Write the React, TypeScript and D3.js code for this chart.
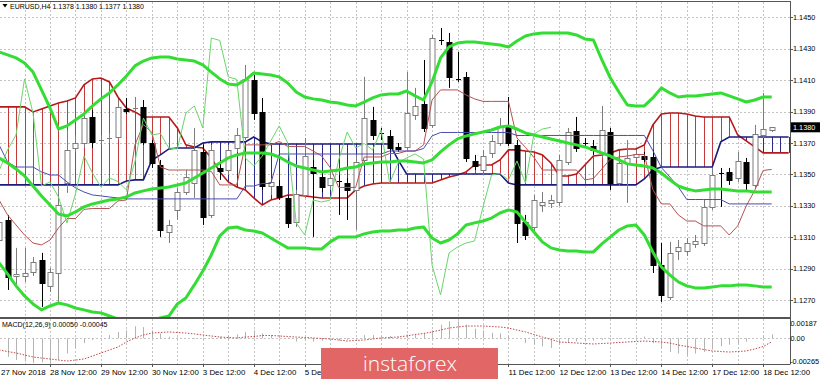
import React from "react";
import * as d3 from "d3";

const dateLabels = ["27 Nov 2018","28 Nov 12:00","29 Nov 12:00","30 Nov 12:00","3 Dec 12:00","4 Dec 12:00","5 Dec 12:00","6 Dec 12:00","7 Dec 12:00","10 Dec 12:00","11 Dec 12:00","12 Dec 12:00","13 Dec 12:00","14 Dec 12:00","17 Dec 12:00","18 Dec 12:00"];
const priceTicks = [1.1270,1.1290,1.1310,1.1330,1.1350,1.1370,1.1390,1.1410,1.1430,1.1450];
const macdTicks = [0.00187,0,-0.00265];

const opens = [1.13082,1.13210,1.12853,1.12853,1.12879,1.12955,1.12790,1.12872,1.13445,1.13668,
1.13700,1.13866,1.13719,1.13732,1.13738,1.13917,1.13917,1.13930,1.13700,1.13560,
1.13133,1.13274,1.13388,1.13445,1.13643,1.13242,1.13541,1.13528,1.13668,1.13738,
1.14101,1.13898,1.13426,1.13426,1.13350,1.13197,1.13369,1.13547,1.13484,1.13433,
1.13458,1.13445,1.13401,1.13592,1.13847,1.13764,1.13745,1.13675,1.13675,1.13879,
1.13949,1.13815,1.14356,1.14344,1.14108,1.14121,1.13586,1.13528,1.13637,1.13700,
1.13802,1.13688,1.13197,1.13165,1.13305,1.13318,1.13324,1.13579,1.13777,1.13700,
1.13681,1.13637,1.13770,1.13445,1.13573,1.13611,1.13617,1.13611,1.12923,1.12719,
1.13012,1.13012,1.13057,1.13063,1.13293,1.13509,1.13516,1.13477,1.13579,1.13433,
1.13751,1.1378];
const highs = [1.13242,1.13242,1.13032,1.13032,1.12974,1.13000,1.12904,1.13433,1.13783,1.13751,
1.13898,1.13910,1.13751,1.13764,1.13974,1.13987,1.13993,1.13974,1.13719,1.13592,
1.13210,1.13414,1.13528,1.13796,1.13688,1.13688,1.13592,1.13688,1.13796,1.14197,
1.14133,1.13987,1.13477,1.13465,1.13369,1.13401,1.13732,1.13592,1.13528,1.13516,
1.13496,1.13477,1.13624,1.14121,1.13930,1.13796,1.13783,1.13700,1.14152,1.14051,
1.14229,1.14388,1.14433,1.14401,1.14280,1.14152,1.13624,1.13656,1.13751,1.13859,
1.13993,1.13719,1.13242,1.13369,1.13388,1.13369,1.13624,1.13796,1.13866,1.13732,
1.13719,1.13936,1.13796,1.13605,1.13719,1.13656,1.13643,1.13656,1.13063,1.13070,
1.13082,1.13095,1.13114,1.13337,1.13541,1.13541,1.13541,1.13643,1.13605,1.13815,
1.14019,1.1380];
const lows = [1.13051,1.12764,1.12783,1.12815,1.12853,1.12656,1.12751,1.12688,1.13382,1.13643,
1.13668,1.13668,1.13688,1.13700,1.13719,1.13885,1.13898,1.13688,1.13541,1.13102,
1.13063,1.13210,1.13369,1.13350,1.13178,1.13222,1.13465,1.13496,1.13643,1.13719,
1.13847,1.13401,1.13369,1.13337,1.13159,1.13165,1.13350,1.13102,1.13388,1.13401,
1.13242,1.13210,1.13146,1.13560,1.13719,1.13719,1.13643,1.13643,1.13656,1.13847,
1.13770,1.13796,1.14324,1.14051,1.14089,1.13579,1.13528,1.13496,1.13605,1.13681,
1.13681,1.13063,1.13082,1.13133,1.13261,1.13286,1.13299,1.13560,1.13643,1.13668,
1.13624,1.13605,1.13401,1.13426,1.13318,1.13592,1.13579,1.12872,1.12688,1.12700,
1.12955,1.12981,1.13032,1.13044,1.13274,1.13293,1.13433,1.13452,1.13401,1.13414,
1.13732,1.1377];
const closes = [1.13197,1.12847,1.12866,1.12872,1.12942,1.12809,1.12879,1.13305,1.13656,1.13700,
1.13859,1.13707,1.13722,1.13735,1.13930,1.13904,1.13920,1.13707,1.13573,1.13146,
1.13178,1.13388,1.13484,1.13656,1.13229,1.13656,1.13522,1.13656,1.13751,1.14108,
1.13891,1.13426,1.13452,1.13356,1.13191,1.13375,1.13617,1.13509,1.13420,1.13477,
1.13455,1.13401,1.13579,1.13859,1.13751,1.13761,1.13668,1.13662,1.13891,1.13936,
1.13796,1.14369,1.14353,1.14121,1.14105,1.13605,1.13554,1.13617,1.13713,1.13809,
1.13700,1.13191,1.13114,1.13337,1.13324,1.13337,1.13592,1.13770,1.13668,1.13697,
1.13656,1.13783,1.13445,1.13573,1.13605,1.13630,1.13598,1.12923,1.12732,1.13000,
1.13038,1.13063,1.13076,1.13293,1.13496,1.13506,1.13465,1.13586,1.13445,1.13758,
1.13789,1.1380];

const bbUpper = [1.14280,1.14261,1.14242,1.14210,1.14152,1.14038,1.13923,1.13789,1.13809,1.13847,
1.13885,1.13936,1.13981,1.14019,1.14070,1.14127,1.14191,1.14222,1.14242,1.14248,
1.14248,1.14235,1.14229,1.14222,1.14197,1.14152,1.14108,1.14076,1.14070,1.14101,
1.14146,1.14140,1.14133,1.14121,1.14082,1.14025,1.13993,1.13981,1.13974,1.13961,
1.13955,1.13942,1.13936,1.13961,1.13987,1.14006,1.14012,1.14012,1.14031,1.14000,
1.13974,1.14089,1.14242,1.14312,1.14337,1.14344,1.14344,1.14337,1.14331,1.14324,
1.14312,1.14350,1.14382,1.14395,1.14401,1.14401,1.14401,1.14401,1.14388,1.14363,
1.14356,1.14229,1.14114,1.14025,1.13942,1.13936,1.13936,1.13987,1.14051,1.14019,
1.13993,1.14000,1.14000,1.14006,1.14012,1.14019,1.14000,1.13981,1.13961,1.13974,
1.13993,1.13993];
const bbMiddle = [1.13605,1.13573,1.13535,1.13490,1.13426,1.13363,1.13305,1.13248,1.13235,1.13261,
1.13293,1.13312,1.13324,1.13337,1.13344,1.13356,1.13382,1.13395,1.13407,1.13414,
1.13420,1.13433,1.13445,1.13477,1.13509,1.13541,1.13573,1.13605,1.13624,1.13637,
1.13637,1.13637,1.13630,1.13611,1.13579,1.13554,1.13541,1.13528,1.13516,1.13522,
1.13528,1.13541,1.13547,1.13567,1.13573,1.13579,1.13579,1.13586,1.13586,1.13579,
1.13573,1.13592,1.13643,1.13688,1.13726,1.13745,1.13758,1.13770,1.13783,1.13802,
1.13809,1.13789,1.13764,1.13751,1.13738,1.13726,1.13713,1.13700,1.13688,1.13675,
1.13656,1.13637,1.13617,1.13592,1.13567,1.13560,1.13554,1.13541,1.13509,1.13465,
1.13426,1.13407,1.13395,1.13401,1.13407,1.13407,1.13401,1.13395,1.13395,1.13388,
1.13388,1.13388];
const bbLower = [1.12936,1.12866,1.12790,1.12726,1.12675,1.12637,1.12662,1.12681,1.12669,1.12649,
1.12637,1.12624,1.12618,1.12598,1.12579,1.12567,1.12567,1.12573,1.12573,1.12586,
1.12598,1.12675,1.12713,1.12796,1.12885,1.12987,1.13108,1.13159,1.13165,1.13146,
1.13139,1.13127,1.13095,1.13063,1.13032,1.13032,1.13032,1.13025,1.13025,1.13070,
1.13102,1.13102,1.13102,1.13121,1.13133,1.13139,1.13139,1.13146,1.13146,1.13159,
1.13165,1.13095,1.13063,1.13082,1.13121,1.13178,1.13191,1.13203,1.13222,1.13254,
1.13274,1.13261,1.13197,1.13133,1.13070,1.13032,1.13019,1.13012,1.13012,1.13006,
1.13006,1.13057,1.13102,1.13146,1.13172,1.13178,1.13114,1.13006,1.12911,1.12860,
1.12815,1.12790,1.12777,1.12777,1.12783,1.12790,1.12790,1.12796,1.12796,1.12790,
1.12783,1.12783];

const tenkan = [1.13337,1.13242,1.13178,1.13114,1.13063,1.13051,1.13082,1.13159,1.13219,1.13219,
1.13277,1.13283,1.13283,1.13283,1.13331,1.13337,1.13688,1.13818,1.13767,1.13547,
1.13528,1.13528,1.13528,1.13528,1.13528,1.13519,1.13433,1.13433,1.13433,1.13688,
1.13688,1.13688,1.13688,1.13710,1.13678,1.13678,1.13678,1.13649,1.13617,1.13544,
1.13417,1.13417,1.13417,1.13611,1.13611,1.13611,1.13633,1.13633,1.13649,1.13649,
1.13688,1.13974,1.14038,1.14038,1.14038,1.14006,1.13981,1.13965,1.13965,1.13965,
1.13965,1.13732,1.13672,1.13608,1.13528,1.13528,1.13528,1.13528,1.13528,1.13465,
1.13474,1.13535,1.13598,1.13611,1.13617,1.13627,1.13627,1.13404,1.13312,1.13312,
1.13242,1.13203,1.13203,1.13172,1.13172,1.13172,1.13114,1.13172,1.13299,1.13398,
1.13525,1.13532];
const kijun = [1.13688,1.13579,1.13547,1.13547,1.13547,1.13516,1.13496,1.13496,1.13452,1.13414,
1.13388,1.13369,1.13363,1.13356,1.13350,1.13344,1.13344,1.13344,1.13344,1.13344,
1.13344,1.13344,1.13344,1.13344,1.13344,1.13344,1.13344,1.13344,1.13344,1.13426,
1.13426,1.13442,1.13442,1.13630,1.13630,1.13630,1.13630,1.13630,1.13630,1.13630,
1.13630,1.13630,1.13630,1.13630,1.13630,1.13630,1.13649,1.13649,1.13649,1.13649,
1.13665,1.13745,1.13767,1.13767,1.13767,1.13767,1.13767,1.13767,1.13767,1.13767,
1.13767,1.13748,1.13748,1.13748,1.13748,1.13748,1.13748,1.13748,1.13748,1.13748,
1.13748,1.13748,1.13748,1.13748,1.13748,1.13748,1.13748,1.13652,1.13544,1.13484,
1.13420,1.13340,1.13340,1.13340,1.13340,1.13340,1.13312,1.13312,1.13312,1.13312,
1.13312,1.13312];
const spanA = [1.13930,1.13930,1.13930,1.13930,1.13898,1.13917,1.13936,1.13955,1.13968,1.13987,
1.14070,1.14108,1.14114,1.14089,1.13993,1.13923,1.13898,1.13866,1.13866,1.13866,
1.13866,1.13796,1.13688,1.13675,1.13668,1.13605,1.13516,1.13452,1.13420,1.13401,
1.13350,1.13305,1.13337,1.13350,1.13369,1.13369,1.13363,1.13356,1.13350,1.13350,
1.13350,1.13350,1.13401,1.13426,1.13439,1.13445,1.13445,1.13445,1.13445,1.13445,
1.13445,1.13445,1.13465,1.13484,1.13496,1.13516,1.13560,1.13560,1.13560,1.13592,
1.13656,1.13656,1.13649,1.13643,1.13624,1.13573,1.13490,1.13490,1.13503,1.13560,
1.13617,1.13624,1.13637,1.13656,1.13662,1.13662,1.13688,1.13815,1.13885,1.13891,
1.13891,1.13885,1.13872,1.13866,1.13866,1.13866,1.13866,1.13751,1.13713,1.13675,
1.13637,1.13637,1.13637,1.13637];
const spanB = [1.13433,1.13433,1.13433,1.13433,1.13433,1.13433,1.13433,1.13433,1.13433,1.13433,
1.13433,1.13433,1.13433,1.13433,1.13433,1.13458,1.13465,1.13465,1.13592,1.13624,
1.13662,1.13668,1.13668,1.13668,1.13700,1.13707,1.13707,1.13707,1.13707,1.13707,
1.13738,1.13707,1.13694,1.13694,1.13694,1.13694,1.13694,1.13694,1.13694,1.13694,
1.13694,1.13694,1.13694,1.13694,1.13694,1.13694,1.13694,1.13592,1.13503,1.13503,
1.13503,1.13503,1.13503,1.13503,1.13503,1.13503,1.13503,1.13503,1.13503,1.13503,
1.13445,1.13433,1.13433,1.13433,1.13433,1.13433,1.13433,1.13433,1.13433,1.13433,
1.13433,1.13433,1.13433,1.13433,1.13433,1.13433,1.13471,1.13528,1.13547,1.13547,
1.13547,1.13547,1.13547,1.13547,1.13547,1.13707,1.13738,1.13738,1.13738,1.13738,
1.13738,1.13738,1.13738,1.13738];

const macdMain = [-0.0017,-0.0023,-0.0027,-0.0029,-0.0031,-0.0030,-0.0031,-0.0027,-0.0019,-0.0012,
-0.0006,-0.0002,0.0000,0.0004,0.0008,0.0010,0.0015,0.0014,0.0010,0.0006,
0.0002,0.0001,0.0000,-0.0001,-0.0002,0.0001,0.0002,0.0003,0.0005,0.0008,
0.0010,0.0006,0.0004,0.0004,0.0001,-0.0004,-0.0002,-0.0004,-0.0003,-0.0002,
-0.0003,-0.0002,-0.0001,0.0004,0.0004,0.0003,0.0003,0.0002,0.0005,0.0004,
0.0006,0.0010,0.0017,0.0021,0.0021,0.0017,0.0012,0.0010,0.0007,0.0006,
0.0003,0.0000,-0.0006,-0.0008,-0.0010,-0.0012,-0.0008,-0.0005,-0.0004,-0.0004,
-0.0003,-0.0002,-0.0002,-0.0001,0.0000,0.0001,0.0002,-0.0006,-0.0012,-0.0017,
-0.0019,-0.0021,-0.0019,-0.0017,-0.0014,-0.0010,-0.0008,-0.0006,-0.0004,0.0000,
0.0003,0.0005];
const macdSignal = [-0.00146,-0.00165,-0.00183,-0.00208,-0.00233,-0.00246,-0.00258,-0.00271,-0.00283,-0.00271,
-0.00258,-0.00221,-0.00183,-0.00146,-0.00108,-0.00046,0.00004,0.00041,0.00066,0.00072,
0.00079,0.00072,0.00066,0.00054,0.00041,0.00029,0.00016,0.00010,0.00004,0.00016,
0.00022,0.00035,0.00035,0.00029,0.00022,0.00016,0.00010,0.00004,-0.00002,-0.00009,
-0.00021,-0.00034,-0.00027,-0.00021,-0.00009,0.00004,0.00010,0.00016,0.00029,0.00047,
0.00060,0.00079,0.00103,0.00128,0.00141,0.00153,0.00153,0.00153,0.00147,0.00141,
0.00128,0.00103,0.00079,0.00047,0.00016,-0.00015,-0.00046,-0.00052,-0.00059,-0.00065,
-0.00071,-0.00065,-0.00059,-0.00052,-0.00046,-0.00040,-0.00034,-0.00040,-0.00046,-0.00059,
-0.00084,-0.00102,-0.00121,-0.00140,-0.00158,-0.00165,-0.00171,-0.00165,-0.00158,-0.00133,
-0.00102,-0.00045];

const FONT = "'Liberation Sans', Arial, sans-serif";
const W = 820, H = 379;
const RIGHT = 790, MAIN_TOP = 2, MAIN_BOTTOM = 317, MACD_TOP = 319, MACD_BOTTOM = 364;
const WM = { x: 321, y: 348, w: 177, h: 31 };

export default function App() {
  const x = d3.scaleLinear().domain([6, 90]).range([50, 763.2]);
  const y = d3.scaleLinear().domain([1.127, 1.145]).range([300, 17.4]);
  const ym = d3.scaleLinear().domain([0, 0.00187]).range([338.3, 323.3]);
  const px = (i: number) => Math.round(x(i)) + 0.5;

  const lineOf = (arr: number[]) =>
    d3.line<number>().x((_, i) => x(i)).y((v) => y(v))(arr) || "";
  const chikou = closes.slice(26);

  const gridBars = d3.range(0, 92, 3);
  const signalPath = d3.line<number>().x((_, i) => x(i)).y((v) => ym(v))(macdSignal) || "";

  return (
    <div style={{ position: "absolute", left: 0, top: 0 }}>
      <svg width={W} height={H} style={{ display: "block", background: "#fff" }} fontFamily={FONT}>
        <defs>
          <clipPath id="mainClip"><rect x={0} y={MAIN_TOP} width={RIGHT} height={MAIN_BOTTOM - MAIN_TOP} /></clipPath>
          <clipPath id="macdClip"><rect x={0} y={MACD_TOP} width={RIGHT} height={MACD_BOTTOM - MACD_TOP} /></clipPath>
        </defs>
        <rect x={0} y={0} width={W} height={H} fill="#fff" />

        {/* grid */}
        <g stroke="#c4c4c4" strokeWidth={1} strokeDasharray="2,2">
          {gridBars.map((i) => (
            <g key={"vg" + i}>
              <line x1={px(i)} x2={px(i)} y1={MAIN_TOP} y2={MAIN_BOTTOM} />
              <line x1={px(i)} x2={px(i)} y1={MACD_TOP} y2={MACD_BOTTOM} />
            </g>
          ))}
          {priceTicks.map((p) => (
            <line key={"hg" + p} x1={0} x2={RIGHT} y1={Math.round(y(p)) + 0.5} y2={Math.round(y(p)) + 0.5} />
          ))}
          <line x1={0} x2={RIGHT} y1={Math.round(ym(0)) + 0.5} y2={Math.round(ym(0)) + 0.5} />
        </g>

        <g clipPath="url(#mainClip)">
          {/* Ichimoku cloud hatching */}
          {spanA.map((a, i) => (
            <line key={"h" + i} x1={px(i)} x2={px(i)} y1={y(a)} y2={y(spanB[i])}
              stroke={a >= spanB[i] ? "#c43a3a" : "#2b2b8c"} strokeWidth={1} />
          ))}
          <path d={lineOf(spanA)} fill="none" stroke="#b81818" strokeWidth={1.6} />
          <path d={lineOf(spanB)} fill="none" stroke="#1b1b80" strokeWidth={1.6} />

          {/* candles */}
          {opens.map((o, i) => {
            const c = closes[i];
            const bull = c >= o;
            const cx = px(i);
            const top = y(Math.max(o, c));
            const bot = y(Math.min(o, c));
            const col = bull ? "#7c7c7c" : "#000";
            return (
              <g key={"c" + i}>
                <line x1={cx} x2={cx} y1={y(highs[i])} y2={y(lows[i])} stroke={col} strokeWidth={1} />
                {bot - top < 1.2 ? (
                  <line x1={cx - 2.5} x2={cx + 2.5} y1={Math.round(top) + 0.5} y2={Math.round(top) + 0.5} stroke={col} strokeWidth={1} />
                ) : (
                  <rect x={cx - 2.5} y={Math.round(top) + 0.5} width={5} height={Math.max(1, Math.round(bot) - Math.round(top))}
                    fill={bull ? "#fff" : "#000"} stroke={col} strokeWidth={1} />
                )}
              </g>
            );
          })}

          {/* Ichimoku lines */}
          <path d={lineOf(tenkan)} fill="none" stroke="#b85050" strokeWidth={1} />
          <path d={lineOf(kijun)} fill="none" stroke="#4a4ab4" strokeWidth={1} />
          <path d={lineOf(chikou)} fill="none" stroke="#6ad66a" strokeWidth={1} />

          {/* Bollinger bands */}
          {[bbUpper, bbMiddle, bbLower].map((arr, k) => (
            <path key={"bb" + k} d={lineOf(arr)} fill="none" stroke="#33dd33" strokeWidth={3} strokeLinejoin="round" />
          ))}
        </g>

        {/* MACD */}
        <g clipPath="url(#macdClip)">
          {macdMain.map((v, i) => (
            <line key={"m" + i} x1={px(i)} x2={px(i)} y1={ym(0)} y2={ym(v)} stroke="#b4b4b4" strokeWidth={1} />
          ))}
          <path d={signalPath} fill="none" stroke="#c04848" strokeWidth={1} strokeDasharray="1.5,1.5" />
        </g>

        {/* frame */}
        <line x1={0} x2={RIGHT + 0.5} y1={1.5} y2={1.5} stroke="#555" strokeWidth={1} />
        <line x1={RIGHT + 0.5} x2={RIGHT + 0.5} y1={1} y2={MACD_BOTTOM} stroke="#555" strokeWidth={1} />
        <rect x={0} y={MAIN_BOTTOM} width={RIGHT + 1} height={2} fill="#555" />
        <line x1={0} x2={RIGHT + 0.5} y1={MACD_BOTTOM + 0.5} y2={MACD_BOTTOM + 0.5} stroke="#555" strokeWidth={1} />

        {/* price axis */}
        {priceTicks.map((p) => (
          <g key={"pt" + p}>
            <line x1={RIGHT} x2={RIGHT + 3} y1={Math.round(y(p)) + 0.5} y2={Math.round(y(p)) + 0.5} stroke="#555" />
            <text x={RIGHT + 3} y={y(p) + 2.6} fontSize={7.3} fill="#000">{p.toFixed(4)}</text>
          </g>
        ))}
        <rect x={RIGHT + 1} y={y(1.138) - 5} width={W - RIGHT - 1} height={10} fill="#000" />
        <text x={RIGHT + 3} y={y(1.138) + 2.6} fontSize={7.3} fill="#fff">1.1380</text>

        {/* MACD axis */}
        {macdTicks.map((v, k) => (
          <text key={"mt" + k} x={k === 2 ? W - 1 : RIGHT + 0.5} y={k === 2 ? 363.5 : ym(v) + 2.6}
            textAnchor={k === 2 ? "end" : "start"} fontSize={7.3} fill="#000">
            {v === 0 ? "0.00" : v.toFixed(5)}
          </text>
        ))}

        {/* time axis (labels under the watermark are hidden by it) */}
        {dateLabels.map((t, k) => {
          const bi = k * 6;
          const lx = Math.max(1, x(bi));
          const hidden = lx > WM.x && lx < WM.x + WM.w;
          return (
            <g key={"d" + k}>
              <line x1={px(bi)} x2={px(bi)} y1={MACD_BOTTOM} y2={MACD_BOTTOM + 3} stroke="#555" />
              {!hidden && <text x={lx} y={375} fontSize={7.9} fill="#000">{t}</text>}
            </g>
          );
        })}

        {/* headers */}
        <path d="M2.5,4 L7.5,4 L5,7.5 Z" fill="#000" />
        <text x={10} y={9} fontSize={7} fill="#000">EURUSD,H4  1.1378 1.1380 1.1377 1.1380</text>
        <text x={2} y={327} fontSize={7} fill="#000">MACD(12,26,9) 0.00050 -0.00045</text>

        {/* watermark */}
        <rect x={WM.x} y={WM.y} width={WM.w} height={WM.h} fill="#e36666" />
        <text x={410} y={371} fontSize={21} fontWeight={300} fill="#fff" textAnchor="middle"
          fontFamily="'Open Sans', 'Noto Sans', sans-serif">instaforex</text>
      </svg>
    </div>
  );
}
